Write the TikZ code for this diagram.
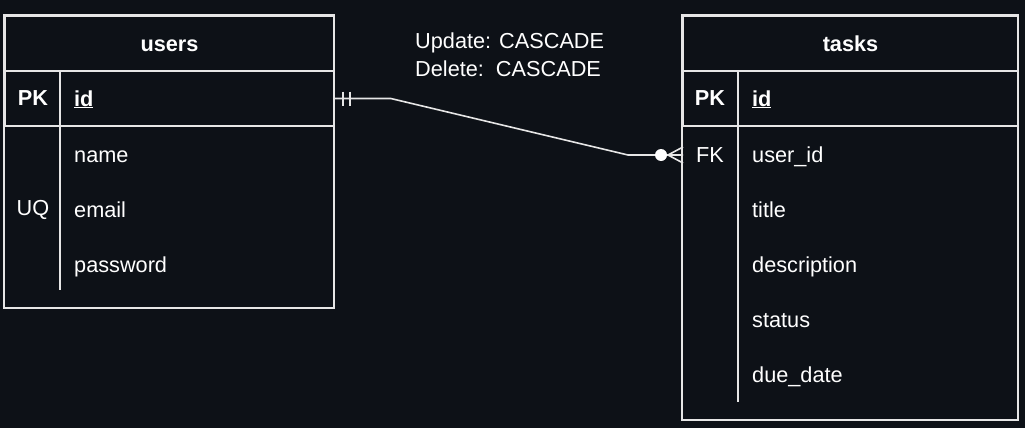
\documentclass[tikz,border=0pt]{standalone}
\usepackage{fontspec}
\setmainfont{Liberation Sans}
\definecolor{bgcol}{HTML}{0D1117}
\definecolor{linecol}{HTML}{E6E6E6}
\tikzset{
    boxrow/.style={draw=linecol, line width=1.6pt, minimum height=55pt, inner sep=0pt, text height=15.5pt, text depth=0pt},
    keytxt/.style={text=white},
    fldtxt/.style={text=white, anchor=base west, yshift=-7.5pt, inner sep=0pt},
    conn/.style={draw=linecol, line width=1.6pt}
}
\begin{document}
\begin{tikzpicture}[x=1pt, y=-1pt, font=\fontsize{21.7}{28}\selectfont]

            \fill[bgcol] (0,0) rectangle (1025,428);

            % users
            \node[boxrow, minimum width=329pt, font=\bfseries\fontsize{21.7}{28}\selectfont, text=white] (users) at (169.5,43.5) {users};
            \node[boxrow, minimum width=329pt] (users-pk) at (169.5,98.5) {};
            \draw[conn] (users.north west) rectangle (334,308);
            \draw[conn] (60,71) -- (60,290);
            \node[keytxt, font=\bfseries\fontsize{21.7}{28}\selectfont] (users-pkkey) at (33,98.5) {PK};
            \node[keytxt] (users-uqkey) at (33,210) {UQ};
            \node[fldtxt, font=\bfseries\fontsize{21.7}{28}\selectfont] (users-id) at (74,98.5) {\underline{id}};
            \foreach \nm/\y in {name/155, email/210, password/265} {
                \node[fldtxt] (users-\nm) at (74,\y) {\nm};
            }

            % tasks
            \node[boxrow, minimum width=335pt, font=\bfseries\fontsize{21.7}{28}\selectfont, text=white] (tasks) at (850.5,43.5) {tasks};
            \node[boxrow, minimum width=335pt] (tasks-pk) at (850.5,98.5) {};
            \draw[conn] (tasks.north west) rectangle (1018,420);
            \draw[conn] (738,71) -- (738,402);
            \node[keytxt, font=\bfseries\fontsize{21.7}{28}\selectfont] (tasks-pkkey) at (710,98.5) {PK};
            \node[keytxt] (tasks-fkkey) at (710,155) {FK};
            \coordinate (tasks-fk) at (683,155);
            \node[fldtxt, font=\bfseries\fontsize{21.7}{28}\selectfont] (tasks-id) at (752,98.5) {\underline{id}};
            \foreach \nm/\txt/\y in {userid/user\_id/155, title/title/210, description/description/265, status/status/320, duedate/due\_date/375} {
                \node[fldtxt] (tasks-\nm) at (752,\y) {\txt};
            }

            % relation
            \draw[conn] (users-pk.east) -- ++(56,0) -- (628,155) -- (tasks-fk);
            \draw[conn] ([xshift=8pt,yshift=7pt]users-pk.east) -- ++(0,14);
            \draw[conn] ([xshift=15pt,yshift=7pt]users-pk.east) -- ++(0,14);
            \fill[white] ([xshift=-22pt]tasks-fk) circle (6pt);
            \draw[conn] ([xshift=-15pt]tasks-fk) -- ++(15,-8);
            \draw[conn] ([xshift=-15pt]tasks-fk) -- ++(15,8);
            \node[text=white, align=left, anchor=north west, inner sep=0pt] (rule) at (415,33) {Update: CASCADE\\Delete:\ \ CASCADE};

\end{tikzpicture}
\end{document}
